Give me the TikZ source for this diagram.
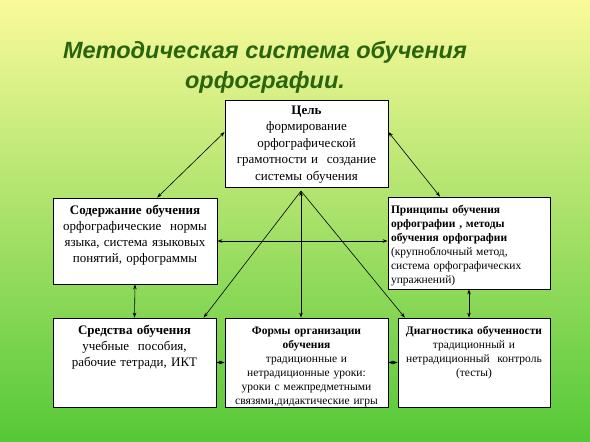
\documentclass[tikz,border=0pt]{standalone}
\usepackage{fontspec}
\setmainfont{Liberation Serif}
\newfontfamily\titlefont{Liberation Sans}
\usetikzlibrary{arrows, arrows.meta}
\definecolor{titlegreen}{RGB}{42,100,14}
\definecolor{bgtop}{RGB}{250,250,155}
\definecolor{bgmid}{RGB}{185,232,105}
\definecolor{bgbottom}{RGB}{85,200,55}
\tikzstyle{block} = [rectangle, draw, fill=white, line width=0.8pt, inner xsep=3pt, inner ysep=4pt, text height=12pt, align=center]
\tikzstyle{bigtext} = [font=\fontsize{13}{16}\selectfont]
\tikzstyle{smalltext} = [font=\fontsize{11.5}{14}\selectfont]
\tikzstyle{heading} = [anchor=north, inner sep=0pt, align=center, text=titlegreen, font=\titlefont\bfseries\itshape\fontsize{23.5}{30}\selectfont]
\tikzstyle{arrow} = [line width=0.6pt, >={Stealth[length=5pt,width=3.5pt]}]

\begin{document}
\begin{tikzpicture}[x=1pt, y=-1pt]
    \shade [top color=bgtop, middle color=bgmid, bottom color=bgbottom] (0,0) rectangle (590,442);
    \useasboundingbox (0,0) rectangle (590,442);

    \node [heading] at (265,41) (title) {Методическая система обучения\\орфографии.};

    \node [block, font=\fontsize{13}{16.5}\selectfont, text width=157pt, text height=10pt, text depth=69pt] at (306.5,143.5) (goal) {\textbf{Цель}\\формирование\\орфографической\\грамотности и \ создание\\системы обучения};
    \node [block, bigtext, text width=158pt, text depth=66pt] at (135,241) (content) {\textbf{Содержание обучения}\\орфографические \ нормы\\языка, система языковых\\понятий, орфограммы};
    \node [block, smalltext, text width=156pt, text depth=72pt, align=left] at (469,243) (principles) {\textbf{Принципы обучения}\\\textbf{орфографии , методы}\\\textbf{обучения орфографии}\\(крупноблочный метод,\\система орфографических\\упражнений)};
    \node [block, bigtext, text width=157pt, text depth=69pt] at (134.5,362.5) (means) {\textbf{Средства обучения}\\учебные \ пособия,\\рабочие тетради, ИКТ};
    \node [block, smalltext, text width=157pt, text depth=69pt] at (306.5,362.5) (forms) {\textbf{Формы организации}\\\textbf{обучения}\\традиционные и\\нетрадиционные уроки:\\уроки с межпредметными\\связями,дидактические игры};
    \node [block, smalltext, text width=146pt, text depth=69pt] at (474,362.5) (diag) {\textbf{Диагностика обученности}\\традиционный и\\нетрадиционный \ контроль\\(тесты)};

    \coordinate (apex) at (301,191);

    \draw [arrow, <->] (goal.172) -- (content.63);
    \draw [arrow, <->] (goal.8) -- (principles.122);
    \draw [arrow, <->] (content.east) -- (content.east -| principles.west);
    \draw [arrow, <->] (apex) -- (apex |- forms.north);
    \draw [arrow, ->] (apex) -- (means.33);
    \draw [arrow, ->] (apex) -- (diag.147);
    \draw [arrow, <->] (content.south) -- (means.north);
    \draw [arrow, <->] (principles.south) -- (principles.south |- diag.north);
    \draw [arrow, <->] (means) -- (forms);
    \draw [arrow, <->] (forms) -- (diag);
\end{tikzpicture}
\end{document}
